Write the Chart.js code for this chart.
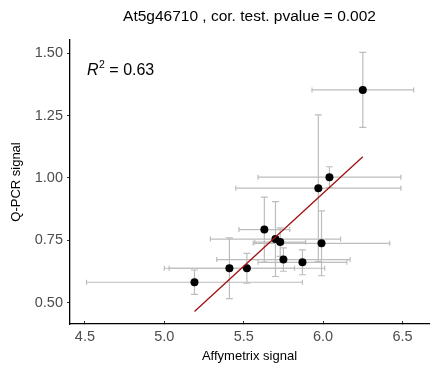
<!DOCTYPE html>
<html>
<head>
<meta charset="utf-8">
<script src="https://cdn.jsdelivr.net/npm/chart.js@4/dist/chart.umd.min.js"></script>
<style>
  html, body { margin: 0; padding: 0; background: #fff; }
</style>
</head>
<body>
<canvas id="chart" width="433" height="367"></canvas>
<script>
// values
const affySignal = [5.19, 5.41, 5.52, 5.63, 5.70, 5.73, 5.75, 5.87, 5.99, 5.97, 6.04, 6.25];
const qpcrSignal = [0.582, 0.638, 0.638, 0.793, 0.755, 0.743, 0.673, 0.662, 0.738, 0.959, 1.003, 1.353];
const affyErr = [0.68, 0.41, 0.49, 0.16, 0.41, 0.16, 0.42, 0.28, 0.43, 0.52, 0.45, 0.32];
const qpcrErr = [0.049, 0.122, 0.06, 0.13, 0.15, 0.057, 0.047, 0.05, 0.13, 0.294, 0.042, 0.15];

const xTicks = [4.5, 5.0, 5.5, 6.0, 6.5];
const yTicks = [0.5, 0.75, 1.0, 1.25, 1.5];
const titleText = 'At5g46710 , cor. test. pvalue = 0.002';

const FONT = '"Liberation Sans", Arial, Helvetica, sans-serif';

// least squares fit, drawn across the range of the points
const n = affySignal.length;
const mx = affySignal.reduce((a, b) => a + b, 0) / n;
const my = qpcrSignal.reduce((a, b) => a + b, 0) / n;
let sxy = 0, sxx = 0, syy = 0;
for (let i = 0; i < n; i++) {
  sxy += (affySignal[i] - mx) * (qpcrSignal[i] - my);
  sxx += (affySignal[i] - mx) ** 2;
  syy += (qpcrSignal[i] - my) ** 2;
}
const slope = sxy / sxx;
const intercept = my - slope * mx;
const r2 = (sxy * sxy) / (sxx * syy);
const xLo = Math.min(...affySignal);
const xHi = Math.max(...affySignal);

const points = affySignal.map((x, i) => ({ x, y: qpcrSignal[i] }));
const fitLine = [
  { x: xLo, y: intercept + slope * xLo },
  { x: xHi, y: intercept + slope * xHi }
];

const errorBars = {
  id: 'errorBars',
  beforeDatasetsDraw(chart) {
    const { ctx, scales: { x, y } } = chart;
    ctx.save();
    ctx.strokeStyle = '#bdbdbd';
    ctx.lineWidth = 1.2;
    for (let i = 0; i < n; i++) {
      const px = x.getPixelForValue(affySignal[i]);
      const py = y.getPixelForValue(qpcrSignal[i]);
      const x0 = x.getPixelForValue(affySignal[i] - affyErr[i]);
      const x1 = x.getPixelForValue(affySignal[i] + affyErr[i]);
      const y0 = y.getPixelForValue(qpcrSignal[i] - qpcrErr[i]);
      const y1 = y.getPixelForValue(qpcrSignal[i] + qpcrErr[i]);
      ctx.beginPath();
      // horizontal bar + caps
      ctx.moveTo(x0, py); ctx.lineTo(x1, py);
      ctx.moveTo(x0, py - 2.5); ctx.lineTo(x0, py + 2.5);
      ctx.moveTo(x1, py - 2.5); ctx.lineTo(x1, py + 2.5);
      // vertical bar + caps
      ctx.moveTo(px, y0); ctx.lineTo(px, y1);
      ctx.moveTo(px - 3.5, y0); ctx.lineTo(px + 3.5, y0);
      ctx.moveTo(px - 3.5, y1); ctx.lineTo(px + 3.5, y1);
      ctx.stroke();
    }
    ctx.restore();
  }
};

const labels = {
  id: 'labels',
  afterDraw(chart) {
    const { ctx, chartArea } = chart;
    ctx.save();
    ctx.fillStyle = '#000';
    ctx.textBaseline = 'alphabetic';
    // title centred over the plot panel
    ctx.font = '15.5px ' + FONT;
    ctx.textAlign = 'center';
    ctx.fillText(titleText, (chartArea.left + chartArea.right) / 2, 21);
    // R^2 annotation
    ctx.textAlign = 'left';
    let tx = 87, ty = 75;
    ctx.font = 'italic 16px ' + FONT;
    ctx.fillText('R', tx, ty);
    tx += ctx.measureText('R').width + 0.5;
    ctx.font = '10.5px ' + FONT;
    ctx.fillText('2', tx, ty - 7);
    tx += ctx.measureText('2').width;
    ctx.font = '16px ' + FONT;
    ctx.fillText(' = ' + r2.toFixed(2), tx, ty);
    ctx.restore();
  }
};

new Chart(document.getElementById('chart'), {
  type: 'scatter',
  data: {
    datasets: [
      {
        type: 'line',
        label: 'fit',
        data: fitLine,
        borderColor: '#a10f0f',
        borderWidth: 1.3,
        pointRadius: 0,
        fill: false
      },
      {
        label: 'points',
        data: points,
        backgroundColor: '#000',
        borderColor: '#000',
        pointRadius: 4,
        borderWidth: 0
      }
    ]
  },
  options: {
    responsive: false,
    animation: false,
    layout: { padding: { top: 40, right: 1, left: 0, bottom: 0 } },
    plugins: {
      legend: { display: false },
      tooltip: { enabled: false }
    },
    scales: {
      x: {
        type: 'linear',
        min: 4.406,
        max: 6.667,
        afterBuildTicks: (s) => { s.ticks = xTicks.map(v => ({ value: v })); },
        afterFit: (s) => { s.height = 43; },
        border: { display: true, color: '#000', width: 1.3 },
        grid: { drawOnChartArea: false, drawTicks: true, tickLength: -3, tickColor: '#333', tickWidth: 1 },
        ticks: {
          color: '#4d4d4d',
          padding: 7,
          maxRotation: 0,
          font: { family: FONT, size: 14.5 },
          callback: (v) => v.toFixed(1)
        },
        title: {
          display: true,
          text: 'Affymetrix signal',
          color: '#000',
          padding: { top: 0, bottom: 3 },
          font: { family: FONT, size: 13 }
        }
      },
      y: {
        type: 'linear',
        min: 0.4146,
        max: 1.553,
        afterBuildTicks: (s) => { s.ticks = yTicks.map(v => ({ value: v })); },
        afterFit: (s) => { s.width = 70; },
        border: { display: true, color: '#000', width: 1.3 },
        grid: { drawOnChartArea: false, drawTicks: true, tickLength: 3, tickColor: '#333', tickWidth: 1 },
        ticks: {
          color: '#4d4d4d',
          padding: 4,
          font: { family: FONT, size: 14.5 },
          callback: (v) => v.toFixed(2)
        },
        title: {
          display: true,
          text: 'Q-PCR signal',
          color: '#000',
          padding: { top: 9, bottom: 0 },
          font: { family: FONT, size: 13 }
        }
      }
    }
  },
  plugins: [errorBars, labels]
});
</script>
</body>
</html>
